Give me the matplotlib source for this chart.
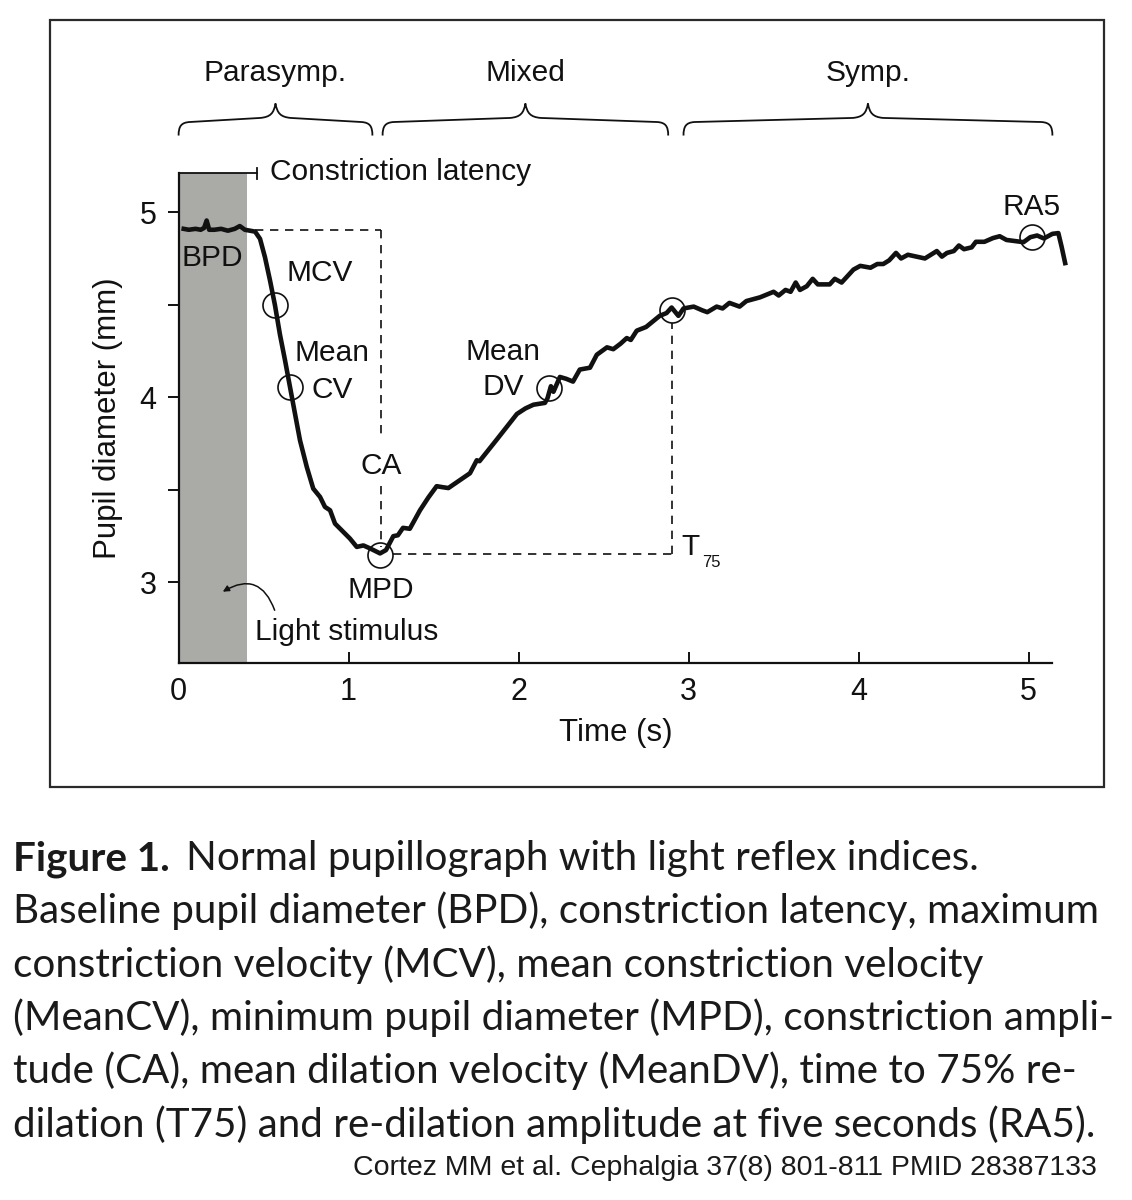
import matplotlib
matplotlib.use("Agg")
import matplotlib.pyplot as plt
from matplotlib.path import Path
from matplotlib.patches import PathPatch, Rectangle

W, H = 1132, 1200
plt.rcParams['font.family'] = ['Liberation Sans', 'DejaVu Sans']

# pupil trace
time_s = [0.03, 0.06, 0.10, 0.13, 0.15, 0.165, 0.18, 0.21, 0.25, 0.29, 0.33, 0.36, 0.39, 0.42, 0.45,
          0.479, 0.508, 0.538, 0.567, 0.596, 0.626, 0.655, 0.685, 0.714, 0.754, 0.792, 0.832, 0.861,
          0.891, 0.92, 0.959, 1.008, 1.048, 1.087, 1.126, 1.185,
          1.22, 1.263, 1.29, 1.32, 1.36, 1.42, 1.47, 1.518, 1.55, 1.587, 1.65, 1.714, 1.754, 1.77,
          1.87, 1.99, 2.04, 2.087, 2.155, 2.17, 2.19, 2.205, 2.243, 2.28, 2.32, 2.36, 2.42, 2.46,
          2.52, 2.557, 2.60, 2.636, 2.66, 2.695, 2.75, 2.83, 2.87, 2.90, 2.94, 2.97, 3.03,
          3.08, 3.11, 3.165, 3.20, 3.24, 3.30, 3.34, 3.42, 3.50, 3.53, 3.57, 3.60, 3.63, 3.655, 3.695,
          3.73, 3.76, 3.83, 3.86, 3.90, 3.97, 4.01, 4.07, 4.11, 4.145, 4.18, 4.22, 4.25, 4.29, 4.34,
          4.39, 4.46, 4.49, 4.52, 4.56, 4.59, 4.62, 4.665, 4.69, 4.74, 4.79, 4.83, 4.87, 4.91, 4.97,
          5.01, 5.05, 5.09, 5.14, 5.175, 5.195, 5.215]
diam_mm = [4.91, 4.905, 4.91, 4.905, 4.915, 4.955, 4.905, 4.905, 4.91, 4.90, 4.91, 4.925, 4.905, 4.90, 4.895,
           4.856, 4.757, 4.63, 4.497, 4.34, 4.20, 4.056, 3.91, 3.768, 3.624, 3.507, 3.462, 3.408,
           3.39, 3.318, 3.282, 3.237, 3.192, 3.20, 3.184, 3.157,
           3.175, 3.25, 3.255, 3.295, 3.29, 3.39, 3.46, 3.52, 3.515, 3.51, 3.55, 3.59, 3.66, 3.655,
           3.77, 3.91, 3.94, 3.96, 3.97, 3.995, 4.06, 4.03, 4.11, 4.10, 4.085, 4.15, 4.16, 4.23,
           4.27, 4.26, 4.29, 4.32, 4.31, 4.36, 4.38, 4.44, 4.455, 4.485, 4.44, 4.48, 4.49,
           4.47, 4.46, 4.49, 4.48, 4.51, 4.49, 4.52, 4.54, 4.57, 4.55, 4.58, 4.57, 4.62, 4.58, 4.60,
           4.64, 4.61, 4.61, 4.64, 4.62, 4.69, 4.71, 4.70, 4.72, 4.72, 4.74, 4.78, 4.75, 4.77, 4.76,
           4.75, 4.79, 4.76, 4.78, 4.79, 4.82, 4.80, 4.81, 4.84, 4.84, 4.86, 4.87, 4.85, 4.845, 4.838,
           4.865, 4.874, 4.858, 4.883, 4.887, 4.81, 4.725]

# light reflex indices marked with circles
mark_names = ["MCV", "MeanCV", "MPD", "MeanDV", "T75", "RA5"]
mark_t = [0.567, 0.655, 1.185, 2.18, 2.90, 5.02]
mark_d = [4.50, 4.056, 3.15, 4.052, 4.47, 4.865]

bpd = 4.906
mpd = 3.153
t_ca = 1.19
t_75 = 2.90
stim_end = 0.40
latency_end = 0.46

phases = ["Parasymp.", "Mixed", "Symp."]
phase_start = [0.0, 1.2, 2.97]
phase_end = [1.14, 2.88, 5.14]

xticks = [0, 1, 2, 3, 4, 5]
yticks = [3, 3.5, 4, 4.5, 5]
ytick_labels = ["3", "", "4", "", "5"]

caption_bold = "Figure 1."
caption_first = "Normal pupillograph with light reflex indices."
caption_lines = [
    "Baseline pupil diameter (BPD), constriction latency, maximum",
    "constriction velocity (MCV), mean constriction velocity",
    "(MeanCV), minimum pupil diameter (MPD), constriction ampli-",
    "tude (CA), mean dilation velocity (MeanDV), time to 75% re-",
    "dilation (T75) and re-dilation amplitude at five seconds (RA5).",
]
citation = "Cortez MM et al. Cephalgia 37(8) 801-811 PMID 28387133"

ink = '#111111'
fig = plt.figure(figsize=(W / 100, H / 100), dpi=100)
fig.patches.append(Rectangle((50 / W, 1 - 787 / H), (1104 - 50) / W, (787 - 20) / H,
                             transform=fig.transFigure, fill=False, lw=1.6, ec='#2a2a2a'))

ax = fig.add_axes([178.6 / W, 1 - 663 / H, 5.14 * 170 / W, (663 - 173.3) / H])
ax.set_xlim(0, 5.14)
ax.set_ylim(2.565, 5.21)
for s in ['top', 'right']:
    ax.spines[s].set_visible(False)
for s in ['left', 'bottom']:
    ax.spines[s].set_linewidth(1.6)
    ax.spines[s].set_color(ink)

ax.set_xticks(xticks)
ax.set_yticks(yticks)
ax.set_yticklabels(ytick_labels)
ax.tick_params(axis='x', direction='in', length=8, width=1.4, pad=10, labelsize=22, colors=ink)
ax.tick_params(axis='y', direction='out', length=8, width=1.4, pad=8, labelsize=22, colors=ink)
ax.set_xlabel("Time (s)", fontsize=22.5, labelpad=8, color=ink)
ax.set_ylabel("Pupil diameter (mm)", fontsize=22.5, labelpad=12, color=ink)

# light stimulus
ax.axvspan(0, stim_end, color='#aaaaa6', lw=0, zorder=0)
ax.plot([0, latency_end], [5.21, 5.21], color=ink, lw=1.3, clip_on=False)
ax.plot([latency_end, latency_end], [5.18, 5.24], color=ink, lw=1.3, clip_on=False)
ax.text(0.538, 5.215, "Constriction latency", fontsize=21.5, ha='left', va='center', color=ink)

# dashed guides
dash = dict(color=ink, lw=1.2, dashes=(5, 4))
ax.plot([0.45, t_ca], [bpd, bpd], **dash)
ax.plot([t_ca, t_ca], [bpd, 3.80], **dash)
ax.plot([t_ca, t_ca], [3.52, mpd + 0.04], **dash)
ax.plot([1.26, t_75], [mpd, mpd], **dash)
ax.plot([t_75, t_75], [mpd, 4.40], **dash)

# trace
ax.plot(time_s, diam_mm, color=ink, lw=3.3, solid_joinstyle='round', clip_on=False, zorder=3)
ax.plot(mark_t, mark_d, 'o', ms=18, mfc='none', mec=ink, mew=1.2, zorder=4)

fs = 21.5
ax.text(0.199, 4.75, "BPD", fontsize=fs, ha='center', va='center', color=ink)
ax.text(0.636, 4.67, "MCV", fontsize=fs, ha='left', va='center', color=ink)
ax.text(0.90, 4.24, "Mean", fontsize=fs, ha='center', va='center', color=ink)
ax.text(0.905, 4.04, "CV", fontsize=fs, ha='center', va='center', color=ink)
ax.text(t_ca, 3.63, "CA", fontsize=fs, ha='center', va='center', color=ink)
ax.text(t_ca, 2.96, "MPD", fontsize=fs, ha='center', va='center', color=ink)
ax.text(1.91, 4.245, "Mean", fontsize=fs, ha='center', va='center', color=ink)
ax.text(1.91, 4.056, "DV", fontsize=fs, ha='center', va='center', color=ink)
ax.text(2.96, 3.19, "T", fontsize=fs, ha='left', va='center', color=ink)
ax.text(3.077, 3.11, "75", fontsize=12, ha='left', va='center', color=ink)
ax.text(5.02, 5.03, "RA5", fontsize=fs, ha='center', va='center', color=ink)
ax.text(0.45, 2.73, "Light stimulus", fontsize=fs, ha='left', va='center', color=ink)
ax.annotate("", xy=(0.26, 2.95), xytext=(0.565, 2.85),
            arrowprops=dict(arrowstyle='-|>', connectionstyle='arc3,rad=0.6',
                            lw=1.1, color=ink, mutation_scale=9, shrinkA=0, shrinkB=0))


def brace(ax, x0, x1, y0):
    xm = (x0 + x1) / 2
    v = [(x0, y0), (x0, y0 + 0.05), (x0 + 0.015, y0 + 0.07), (x0 + 0.065, y0 + 0.073),
         (xm - 0.09, y0 + 0.095),
         (xm - 0.03, y0 + 0.10), (xm - 0.01, y0 + 0.12), (xm, y0 + 0.173),
         (xm + 0.01, y0 + 0.12), (xm + 0.03, y0 + 0.10), (xm + 0.09, y0 + 0.095),
         (x1 - 0.065, y0 + 0.073),
         (x1 - 0.015, y0 + 0.07), (x1, y0 + 0.05), (x1, y0)]
    c = [Path.MOVETO, Path.CURVE4, Path.CURVE4, Path.CURVE4, Path.LINETO,
         Path.CURVE4, Path.CURVE4, Path.CURVE4, Path.CURVE4, Path.CURVE4, Path.CURVE4,
         Path.LINETO, Path.CURVE4, Path.CURVE4, Path.CURVE4]
    ax.add_patch(PathPatch(Path(v, c), fill=False, lw=1.3, ec=ink, clip_on=False))
    return xm


for name, a, b in zip(phases, phase_start, phase_end):
    xm = brace(ax, a, b, 5.414)
    ax.text(xm, 5.75, name, fontsize=fs, ha='center', va='center', color=ink)

# caption
cap_font = ['Lato', 'DejaVu Sans']
renderer = fig.canvas.get_renderer()
probe = fig.text(0, 0, caption_lines[0], fontsize=24, family=cap_font)
cap_size = 24 * 1086 / probe.get_window_extent(renderer).width
probe.remove()

left = 13 / W
base = [870, 923.3, 976.7, 1030, 1083.3, 1136.7]
tb = fig.text(left, 1 - base[0] / H, caption_bold, fontsize=cap_size, family=cap_font,
              weight='bold', va='baseline', color='#1a1a1a')
bw = tb.get_window_extent(renderer).width
fig.text(left + (bw + 16) / W, 1 - base[0] / H, caption_first, fontsize=cap_size,
         family=cap_font, va='baseline', color='#1a1a1a')
for line, yb in zip(caption_lines, base[1:]):
    fig.text(left, 1 - yb / H, line, fontsize=cap_size, family=cap_font,
             va='baseline', color='#1a1a1a')

probe = fig.text(0, 0, citation, fontsize=18)
cit_size = 18 * 744 / probe.get_window_extent(renderer).width
probe.remove()
fig.text(1097 / W, 1 - 1175 / H, citation, fontsize=cit_size, ha='right', va='baseline',
         color='#1a1a1a')

fig.savefig('out.png', dpi=100)
